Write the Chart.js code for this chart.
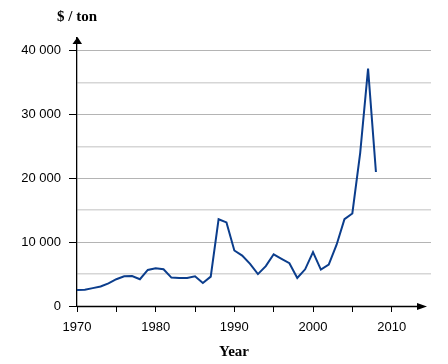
<!DOCTYPE html>
<html>
<head>
<meta charset="utf-8">
<script src="https://cdn.jsdelivr.net/npm/chart.js@4"></script>
<style>
  html, body { margin: 0; padding: 0; background: #fff; }
  #wrap { width: 448px; height: 364px; position: relative; }
</style>
</head>
<body>
<div id="wrap"><canvas id="chart"></canvas></div>
<script>
const years = [1970, 1971, 1972, 1973, 1974, 1975, 1976, 1977, 1978, 1979,
  1980, 1981, 1982, 1983, 1984, 1985, 1986, 1987, 1988, 1989,
  1990, 1991, 1992, 1993, 1994, 1995, 1996, 1997, 1998, 1999,
  2000, 2001, 2002, 2003, 2004, 2005, 2006, 2007, 2008];
const pricePerTon = [2500, 2550, 2800, 3050, 3550, 4200, 4650, 4700, 4200, 5650,
  5900, 5750, 4450, 4400, 4400, 4650, 3600, 4600, 13600, 13100,
  8700, 7900, 6600, 5000, 6250, 8100, 7400, 6700, 4400, 5750,
  8450, 5700, 6500, 9600, 13600, 14500, 24000, 37200, 21000];
const xTicks = [1970, 1975, 1980, 1985, 1990, 1995, 2000, 2005, 2010];
const xLabels = [1970, 1980, 1990, 2000, 2010];
const yTicks = [0, 5000, 10000, 15000, 20000, 25000, 30000, 35000, 40000];
const yLabels = [0, 10000, 20000, 30000, 40000];

const fmt = v => v === 0 ? '0' : String(v).replace(/\B(?=(\d{3})+(?!\d))/g, ' ');

// axis arrows and axis titles
const axisExtras = {
  id: 'axisExtras',
  afterDraw(chart) {
    const c = chart.ctx, a = chart.chartArea;
    const x0 = a.left, y0 = a.bottom;
    c.save();
    c.fillStyle = '#000';
    c.strokeStyle = '#000';
    c.lineWidth = 1.3;
    // x axis line + arrow
    c.beginPath();
    c.moveTo(x0, y0 + 0.5);
    c.lineTo(418, y0 + 0.5);
    c.stroke();
    c.beginPath();
    c.moveTo(417, y0 - 3);
    c.lineTo(427, y0 + 0.5);
    c.lineTo(417, y0 + 4);
    c.closePath();
    c.fill();
    // y arrow
    c.beginPath();
    c.moveTo(x0 - 4.5, a.top + 6);
    c.lineTo(x0 + 0.5, a.top - 1);
    c.lineTo(x0 + 5, a.top + 6);
    c.closePath();
    c.fill();
    // titles
    c.font = 'bold 15px "Liberation Serif", "Times New Roman", serif';
    c.textBaseline = 'middle';
    c.textAlign = 'left';
    c.fillText('$ / ton', 57, 17);
    c.textAlign = 'center';
    c.fillText('Year', 234, 352);
    c.restore();
  }
};

new Chart(document.getElementById('chart'), {
  type: 'line',
  data: {
    datasets: [{
      data: years.map((y, i) => ({ x: y, y: pricePerTon[i] })),
      borderColor: '#0b3d8c',
      borderWidth: 2,
      pointRadius: 0,
      tension: 0,
      fill: false
    }]
  },
  options: {
    responsive: true,
    maintainAspectRatio: false,
    animation: false,
    layout: { padding: { top: 38, right: 17, left: 0, bottom: 0 } },
    plugins: { legend: { display: false }, tooltip: { enabled: false } },
    scales: {
      x: {
        type: 'linear',
        min: 1970,
        max: 2015,
        afterBuildTicks(s) { s.ticks = xTicks.map(v => ({ value: v })); },
        afterFit(s) { s.height = 58; },
        ticks: {
          autoSkip: false,
          maxRotation: 0,
          padding: 8,
          color: '#000',
          font: { family: '"Liberation Sans", Arial, sans-serif', size: 13 },
          callback: v => xLabels.includes(v) ? String(v) : ''
        },
        grid: {
          drawOnChartArea: false,
          tickLength: 6,
          tickColor: '#000'
        },
        border: { display: false }
      },
      y: {
        min: 0,
        max: 42000,
        afterBuildTicks(s) { s.ticks = yTicks.map(v => ({ value: v })); },
        afterFit(s) { s.width = 77; },
        ticks: {
          autoSkip: false,
          padding: 8,
          color: '#000',
          font: { family: '"Liberation Sans", Arial, sans-serif', size: 13 },
          callback: v => yLabels.includes(v) ? fmt(v) : ''
        },
        grid: {
          tickLength: 8,
          color: ctx => {
            const v = ctx.tick ? ctx.tick.value : 0;
            if (v === 0) return 'rgba(0,0,0,0)';
            return v % 10000 === 0 ? '#b4b4b4' : '#d6d6d6';
          },
          lineWidth: ctx => (ctx.tick && ctx.tick.value % 10000 !== 0) ? 1.6 : 1,
          tickColor: ctx => ctx.tick && yLabels.includes(ctx.tick.value) ? '#000' : 'rgba(0,0,0,0)'
        },
        border: { color: '#000', width: 1.3 }
      }
    }
  },
  plugins: [axisExtras]
});
</script>
</body>
</html>
